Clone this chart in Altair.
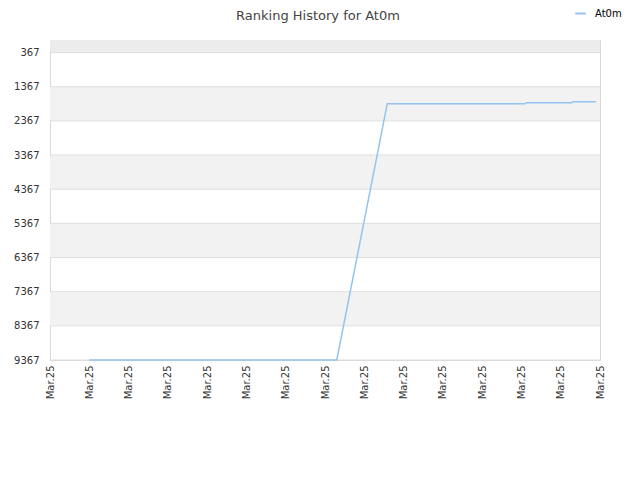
import altair as alt
import pandas as pd

title_text = "Ranking History for At0m"
series_name = "At0m"
x_tick_labels = ["Mar.25"] * 15
y_ticks = [367, 1367, 2367, 3367, 4367, 5367, 6367, 7367, 8367, 9367]

line_x = [1, 7.3, 8.585, 12.1, 12.13, 13.28, 13.31, 13.9]
line_rank = [9367, 9367, 1865, 1865, 1835, 1835, 1806, 1806]

band_start = [0, 1367, 3367, 5367, 7367]
band_end = [367, 2367, 4367, 6367, 8367]
band_kind = ["top", "alt", "alt", "alt", "alt"]

W, H = 550, 320
FONT = "DejaVu Sans"

line_df = pd.DataFrame({"x": line_x, "rank": line_rank, "series": [series_name] * len(line_x)})
band_df = pd.DataFrame({"start": band_start, "end": band_end, "kind": band_kind})
tick_df = pd.DataFrame({"v": y_ticks})

yscale = alt.Scale(domain=[0, 9367], reverse=True, nice=False, zero=False)
xscale = alt.Scale(domain=[0, len(x_tick_labels) - 1], nice=False, zero=False)

label_expr = "[" + ",".join("'" + s + "'" for s in x_tick_labels) + "][datum.value]"

y_axis = alt.Axis(values=y_ticks, format="d", grid=False, ticks=False, domain=False, labelPadding=11,
                  title=None, labelFont=FONT, labelFontSize=10, labelColor="#333333")
x_axis = alt.Axis(values=list(range(len(x_tick_labels))), labelExpr=label_expr, grid=False, ticks=False,
                  domain=False, labelAngle=270, labelAlign="right", labelBaseline="middle",
                  labelPadding=5, title=None, labelFont=FONT, labelFontSize=10, labelColor="#333333",
                  labelOverlap=False)

bands = alt.Chart(band_df).mark_rect().encode(
    y=alt.Y("start:Q", scale=yscale, axis=y_axis),
    y2="end",
    x=alt.value(0),
    x2=alt.value(W),
    color=alt.Color("kind:N", scale=alt.Scale(domain=["top", "alt"], range=["#ececec", "#f2f2f2"]), legend=None),
)

grid = alt.Chart(tick_df).mark_rule(color="#dedede", strokeWidth=1).encode(
    y=alt.Y("v:Q", scale=yscale, axis=y_axis),
)

line = alt.Chart(line_df).mark_line(strokeWidth=1.5).encode(
    x=alt.X("x:Q", scale=xscale, axis=x_axis),
    y=alt.Y("rank:Q", scale=yscale, axis=y_axis),
    color=alt.Color("series:N", scale=alt.Scale(range=["#94c3f0"]), legend=alt.Legend(
        orient="none", legendX=524, legendY=-33, title=None, symbolType="stroke",
        symbolStrokeWidth=2, symbolSize=110, labelFont=FONT, labelFontSize=10,
        labelColor="#000000", labelOffset=8, padding=0)),
)

chart = alt.layer(bands, grid, line).resolve_scale(color="independent").properties(
    width=W, height=H,
    title=alt.TitleParams(title_text, font=FONT, fontSize=13, fontWeight="normal",
                          color="#444444", anchor="middle", offset=-16, dx=-7),
    autosize=alt.AutoSizeParams(type="none"),
    padding={"left": 42, "top": 32, "right": 30, "bottom": 100},
).configure_view(stroke="#d8d8d8", strokeWidth=1)

chart.save("out.html", embed_options={"renderer": "svg", "actions": False})
